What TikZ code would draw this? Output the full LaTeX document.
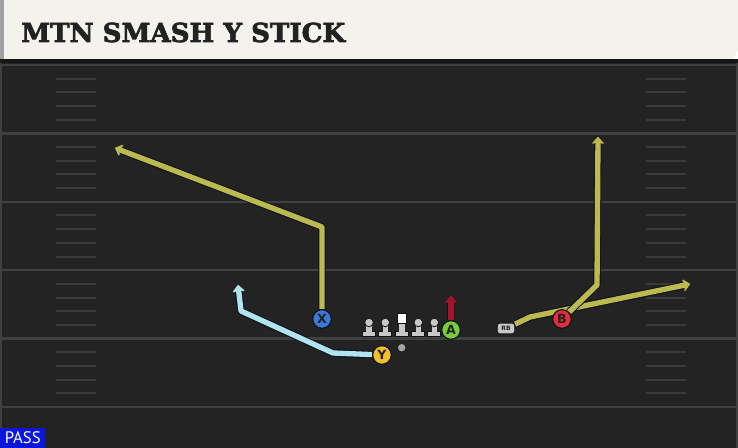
\documentclass[tikz,border=0pt]{standalone}
\usepackage{fontspec}
\usetikzlibrary{positioning,shapes,arrows.meta,calc,backgrounds}
\newfontfamily\titlefont[FakeBold=2.5]{DejaVu Serif Bold}
\newfontfamily\passfont{PT Sans}
\newfontfamily\playerfont{DejaVu Sans}
\definecolor{headerbg}{RGB}{244,242,236}
\definecolor{headeredge}{RGB}{160,160,160}
\definecolor{titletext}{RGB}{34,34,34}
\definecolor{fieldbg}{RGB}{35,35,35}
\definecolor{fielddark}{RGB}{22,22,22}
\definecolor{yardline}{RGB}{64,64,64}
\definecolor{hashline}{RGB}{58,58,58}
\definecolor{routeedge}{RGB}{18,18,24}
\definecolor{olive}{RGB}{186,186,80}
\definecolor{skyroute}{RGB}{175,228,240}
\definecolor{blockred}{RGB}{165,20,45}
\definecolor{xblue}{RGB}{60,120,215}
\definecolor{yyellow}{RGB}{240,192,40}
\definecolor{agreen}{RGB}{120,205,60}
\definecolor{bred}{RGB}{225,45,60}
\definecolor{lineman}{RGB}{200,200,200}
\definecolor{passblue}{RGB}{10,22,220}
\pgfdeclarelayer{field}
\pgfsetlayers{field,background,main}

\begin{document}
\begin{tikzpicture}[x=0.75pt,y=-0.75pt,
    player/.style={circle,draw=routeedge,line width=0.9pt,minimum size=14pt,inner sep=0pt,
      text=titletext,font=\playerfont\bfseries\fontsize{9.5}{9.5}\selectfont},
    route/.style={draw=#1,line width=4pt,line join=round,
      -{Stealth[length=6pt,width=11pt,round]},
      preaction={draw=routeedge,line width=5.6pt,line join=round,-{Stealth[length=6pt,width=11pt,round]}}}]
    \useasboundingbox (0,0) rectangle (738,448);

    % Field
    \begin{pgfonlayer}{field}
    \fill[fieldbg] (0,59) rectangle (738,448);
    \fill[fielddark] (0,59) rectangle (738,63);
    \fill[yardline] (0,63) rectangle (2,448);
    \fill[yardline] (736,63) rectangle (738,448);
    \foreach \yy in {65,133.4,201.8,270.2,338.6,407}
      \draw[yardline,line width=1.8pt] (0,\yy) -- (738,\yy);
    \foreach \k [evaluate=\k as \hy using 65+13.68*\k] in {1,2,3,4,6,7,8,9,11,12,13,14,16,17,18,19,21,22,23,24} {
      \draw[hashline,line width=1.5pt] (56,\hy) -- (96,\hy);
      \draw[hashline,line width=1.5pt] (646,\hy) -- (686,\hy);
    }
    % Header
    \fill[headerbg] (0,0) -- (738,0) -- (738,50) -- (733,59) -- (0,59) -- cycle;
    \fill[headeredge] (0,0) rectangle (4,59);
    \end{pgfonlayer}

    \node[anchor=base west,inner sep=0pt,text=titletext,
      font=\titlefont\fontsize{19.6}{24}\selectfont] (title) at (21,42) {MTN SMASH Y STICK};

    % Offensive line
    \foreach \lx in {369,385.3,418.3,434.3} {
      \fill[lineman,draw=routeedge,line width=0.6pt] (\lx-6.5,336) rectangle (\lx+6.5,331);
      \fill[lineman] (\lx-2.8,332) rectangle (\lx+2.8,325);
      \fill[lineman,draw=routeedge,line width=0.6pt] (\lx,322.5) circle[radius=4.3];
    }
    \fill[lineman,draw=routeedge,line width=0.6pt] (395.2,336) rectangle (408.2,331);
    \fill[lineman] (398.9,332) rectangle (404.5,322);
    \fill[white,draw=routeedge,line width=0.6pt] (397.3,313.3) rectangle (405.9,323);

    % Players
    \node[player,fill=xblue] (X) at (322,319) {X};
    \node[player,fill=yyellow] (Y) at (382,355) {Y};
    \node[player,fill=agreen] (A) at (451,330) {A};
    \node[player,fill=bred] (B) at (562,319) {B};
    \node[circle,fill=gray!70,minimum size=5.5pt,inner sep=0pt] (ball) at (401.7,347.7) {};
    \node[rectangle,rounded corners=1.8pt,fill=lineman,draw=routeedge,line width=0.6pt,
      minimum width=13pt,minimum height=8pt,inner sep=0pt,text=titletext,
      font=\playerfont\bfseries\fontsize{4.5}{4.5}\selectfont] (RB) at (506,328.5) {RB};

    % Routes
    \begin{pgfonlayer}{background}
    \draw[route=olive] (X) -- (322,227) -- (115,148);
    \draw[route=skyroute] (Y) -- (333,353) -- (241,311) -- (238,285);
    \draw[route=olive] (RB) -- (530,317) -- (690,284);
    \draw[route=olive] (B) -- (597,285) -- (598,137);
    \draw[route=blockred] (A) -- (451,296);
    \end{pgfonlayer}

    % Play type
    \node[anchor=south west,fill=passblue,text=white,inner sep=0pt,minimum width=33.75pt,minimum height=15pt,
      font=\passfont\fontsize{12.5}{13}\selectfont] (pass) at (0,448) {PASS};
\end{tikzpicture}
\end{document}
